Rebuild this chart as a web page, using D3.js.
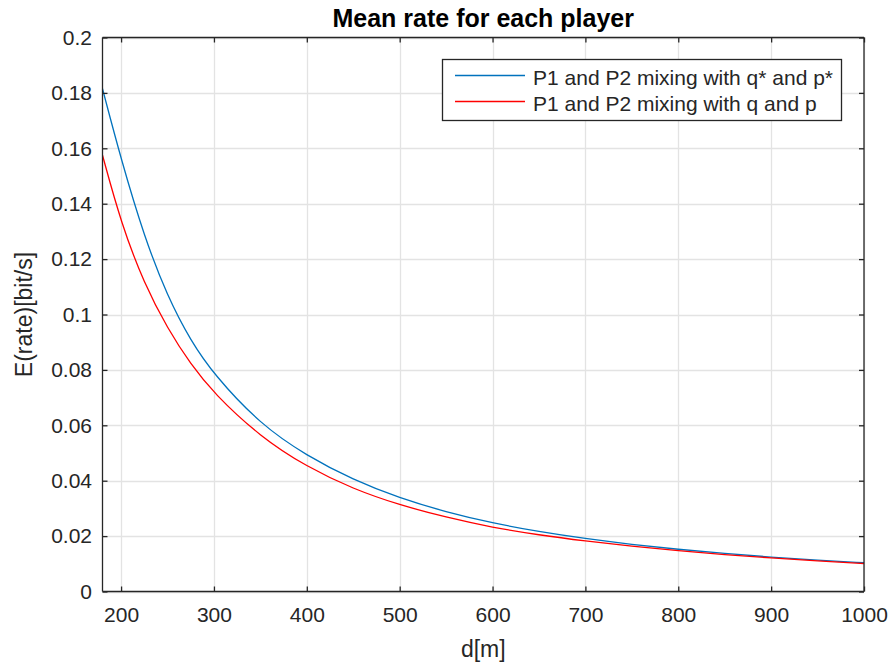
<!DOCTYPE html>
<html>
<head>
<meta charset="utf-8">
<script src="https://cdn.jsdelivr.net/npm/d3@7"></script>
<style>
  html, body { margin: 0; padding: 0; background: #fff; }
  text { font-family: "Liberation Sans", Arial, sans-serif; }
</style>
</head>
<body>
<svg id="chart" width="893" height="668"></svg>
<script>
const distances = [180, 200, 225, 250, 275, 300, 350, 400, 450, 500, 550, 600, 650, 700, 750, 800, 850, 900, 950, 1000];
const rateOptimal = [0.1815, 0.1560, 0.1280, 0.1065, 0.0905, 0.0783, 0.0603, 0.0490, 0.0403, 0.0337, 0.0287, 0.0247, 0.0216, 0.0191, 0.0170, 0.0152, 0.0137, 0.0124, 0.0113, 0.0104];
const rateMixed = [0.1575, 0.1330, 0.1110, 0.0950, 0.0820, 0.0715, 0.0558, 0.0450, 0.0370, 0.0312, 0.0268, 0.0231, 0.0204, 0.0182, 0.0163, 0.0147, 0.0133, 0.0121, 0.0110, 0.0101];
const xTicks = [200, 300, 400, 500, 600, 700, 800, 900, 1000];
const yTicks = [0, 0.02, 0.04, 0.06, 0.08, 0.1, 0.12, 0.14, 0.16, 0.18, 0.2];
const seriesNames = ["P1 and P2 mixing with q* and p*", "P1 and P2 mixing with q and p"];
const seriesColors = ["#0072BD", "#FF0000"];
const titleText = "Mean rate for each player";
const xLabel = "d[m]";
const yLabel = "E(rate)[bit/s]";

const svg = d3.select("#chart");
const L = 102.5, R = 864, T = 37.5, B = 591.5;
const x = d3.scaleLinear().domain([180, 1000]).range([L, R]);
const y = d3.scaleLinear().domain([0, 0.2]).range([B, T]);
const axisColor = "#262626";
const textColor = "#262626";

// grid
const grid = svg.append("g");
grid.selectAll("line.gx").data(xTicks).join("line").attr("class", "gx")
  .attr("x1", d => Math.round(x(d)) + 0.5).attr("x2", d => Math.round(x(d)) + 0.5)
  .attr("y1", T).attr("y2", B).attr("stroke", "#e3e3e3").attr("stroke-width", 1.3);
grid.selectAll("line.gy").data(yTicks).join("line").attr("class", "gy")
  .attr("y1", d => Math.round(y(d)) + 0.5).attr("y2", d => Math.round(y(d)) + 0.5)
  .attr("x1", L).attr("x2", R).attr("stroke", "#e3e3e3").attr("stroke-width", 1.3);

// curves
const line = d3.line().x((d, i) => x(distances[i])).y(d => y(d)).curve(d3.curveBasis);
[rateOptimal, rateMixed].forEach((s, i) => {
  svg.append("path").attr("d", line(s)).attr("fill", "none")
    .attr("stroke", seriesColors[i]).attr("stroke-width", 1.3);
});

// axes
const xAxisB = d3.axisBottom(x).tickValues(xTicks).tickSize(-5).tickPadding(16).tickFormat(d3.format("d"));
const xAxisT = d3.axisTop(x).tickValues(xTicks).tickSize(-5).tickFormat("");
const yAxisL = d3.axisLeft(y).tickValues(yTicks).tickSize(-5).tickPadding(10.5).tickFormat(d => d === 0 ? "0" : String(+d.toFixed(2)));
const yAxisR = d3.axisRight(y).tickValues(yTicks).tickSize(-5).tickFormat("");

function style(sel) {
  sel.selectAll("path").attr("stroke", axisColor).attr("stroke-width", 1.3);
  sel.selectAll("line").attr("stroke", axisColor).attr("stroke-width", 1.3);
  sel.selectAll("text").attr("fill", textColor).attr("font-size", 21).attr("font-family", "Liberation Sans, Arial, sans-serif");
}
svg.append("g").attr("transform", `translate(0,${B})`).call(xAxisB).call(style).call(s => s.selectAll("path.domain").attr("d", `M${L},0H${R}`));
svg.append("g").attr("transform", `translate(0,${T})`).call(xAxisT).call(style).call(s => s.selectAll("path.domain").attr("d", `M${L},0H${R}`));
svg.append("g").attr("transform", `translate(${L},0)`).call(yAxisL).call(style).call(s => s.selectAll("path.domain").attr("d", `M0,${T}V${B}`));
svg.append("g").attr("transform", `translate(${R},0)`).call(yAxisR).call(style).call(s => s.selectAll("path.domain").attr("d", `M0,${T}V${B}`));

// title & labels
svg.append("text").attr("x", (L + R) / 2).attr("y", 27).attr("text-anchor", "middle")
  .attr("font-size", 25).attr("font-weight", "bold").attr("fill", "#000").text(titleText);
svg.append("text").attr("x", (L + R) / 2).attr("y", 657).attr("text-anchor", "middle")
  .attr("font-size", 23).attr("fill", textColor).text(xLabel);
svg.append("text").attr("transform", `translate(31.5,${(T + B) / 2}) rotate(-90)`).attr("text-anchor", "middle")
  .attr("font-size", 23).attr("fill", textColor).text(yLabel);

// legend
const lg = svg.append("g");
lg.append("rect").attr("x", 442.5).attr("y", 59.5).attr("width", 399).attr("height", 61)
  .attr("fill", "#fff").attr("stroke", axisColor).attr("stroke-width", 1.3);
seriesNames.forEach((n, i) => {
  const yy = 75.5 + i * 26;
  lg.append("line").attr("x1", 455).attr("x2", 525).attr("y1", yy).attr("y2", yy)
    .attr("stroke", seriesColors[i]).attr("stroke-width", 1.5);
  lg.append("text").attr("x", 533).attr("y", yy + 9).attr("font-size", 21).attr("fill", textColor).text(n);
});
</script>
</body>
</html>
